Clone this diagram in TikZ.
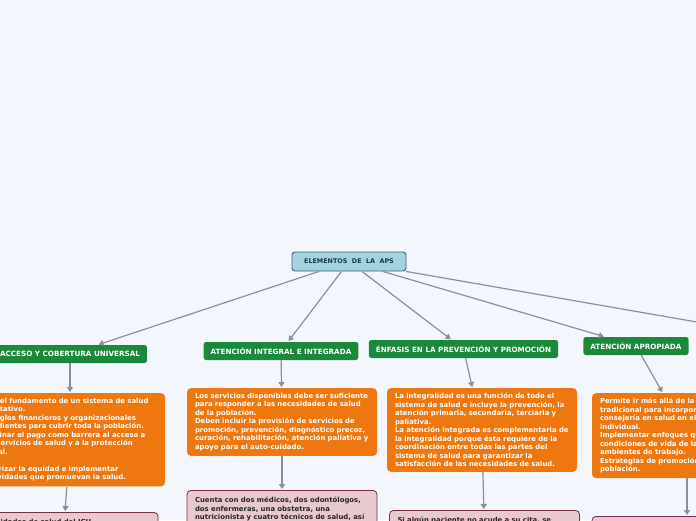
\documentclass[tikz,border=0pt]{standalone}
\usepackage{fontspec}
\setmainfont{DejaVu Sans}
\usetikzlibrary{arrows.meta}
\definecolor{fondo}{HTML}{F4F6FE}
\definecolor{temafill}{HTML}{A2D3E0}
\definecolor{temaline}{HTML}{41606C}
\definecolor{temafont}{HTML}{203847}
\definecolor{verde}{HTML}{1A8A3A}
\definecolor{naranja}{HTML}{EE7710}
\definecolor{rosa}{HTML}{E8C9CF}
\definecolor{granate}{HTML}{7C2E3E}
\definecolor{gris}{HTML}{8B8F98}

\begin{document}
\begin{tikzpicture}[x=1pt,y=-1pt,
                    tema/.style={draw=temaline,fill=temafill,line width=0.9pt,
                                 rounded corners=3pt,text=temafont,
                                 font=\bfseries\fontsize{6.4}{7}\selectfont,
                                 minimum width=114pt,minimum height=19pt},
                    eje/.style={fill=verde,rounded corners=2.5pt,text=white,
                                font=\bfseries\fontsize{7.2}{8}\selectfont,
                                minimum height=18pt,inner xsep=7pt},
                    nota/.style={fill=naranja,rounded corners=4pt,text=white,
                                 anchor=north,text width=174pt,align=left,
                                 inner xsep=8pt,inner ysep=5pt,
                                 font=\bfseries\fontsize{6.9}{8.5}\selectfont},
                    caso/.style={nota,fill=rosa,draw=granate,line width=0.8pt,
                                 text=black!85,inner ysep=7pt,text depth=40pt},
                    rama/.style={draw=gris,line width=1.2pt,shorten >=1pt,
                                 -{Triangle[length=5pt,width=6pt]}}]
  \fill[fondo] (0,0) rectangle (696,520);
  \useasboundingbox (0,0) rectangle (696,520);
  \clip (0,0) rectangle (696,520);

  \node[tema] (aps) at (349,261.5) {ELEMENTOS\ \ DE\ \ LA\ \ APS};

  \node[eje] (acceso) at (70,354) {ACCESO Y COBERTURA UNIVERSAL};
  \node[eje] (integral) at (281,351) {ATENCIÓN INTEGRAL E INTEGRADA};
  \node[eje] (enfasis) at (463.5,349) {ÉNFASIS EN LA PREVENCIÓN Y PROMOCIÓN};
  \node[eje] (apropiada) at (636,346) {ATENCIÓN APROPIADA};
  % the fifth branch leaves the page, so it only needs a free end
  \coordinate (fuera) at (760,333);

  \node[nota] (accesotxt) at (70,393)
    {Son el fundamento de un sistema de salud\\
     equitativo.\\
     Arreglos financieros y organizacionales\\
     pendientes para cubrir toda la población.\\
     Eliminar el pago como barrera al acceso a\\
     los servicios de salud y a la protección\\
     social.\\[8.5pt]
     Priorizar la equidad e implementar\\
     actividades que promuevan la salud.};
  \node[nota] (integraltxt) at (282,388)
    {Los servicios disponibles debe ser suficiente\\
     para responder a las necesidades de salud\\
     de la población.\\
     Deben incluir la provisión de servicios de\\
     promoción, prevención, diagnóstico precoz,\\
     curación, rehabilitación, atención paliativa y\\
     apoyo para el auto-cuidado.};
  \node[nota] (enfasistxt) at (482,388)
    {La integralidad es una función de todo el\\
     sistema de salud e incluye la prevención, la\\
     atención primaria, secundaria, terciaria y\\
     paliativa.\\
     La atención integrada es complementaria de\\
     la integralidad porque ésta requiere de la\\
     coordinación entre todas las partes del\\
     sistema de salud para garantizar la\\
     satisfacción de las necesidades de salud.};
  \node[nota] (apropiadatxt) at (687,393)
    {Permite ir más allá de la atención\\
     tradicional para incorporar la\\
     consejería en salud en el ámbito\\
     individual.\\
     Implementar enfoques que mejoren las\\
     condiciones de vida de la población y\\
     ambientes de trabajo.\\
     Estrategias de promoción para la\\
     población.};

  \node[caso] (accesocaso) at (63,512) {Los cuidados de salud del ICU};
  \node[caso] (integralcaso) at (282,490)
    {Cuenta con dos médicos, dos odontólogos,\\
     dos enfermeras, una obstetra, una\\
     nutricionista y cuatro técnicos de salud, así};
  \node[caso] (enfasiscaso) at (484.5,510)
    {Si algún paciente no acude a su cita, se};
  \node[caso] (apropiadacaso) at (687,516) {\strut};

  \foreach \rama in {acceso,integral,enfasis,apropiada}
    \draw[rama] (aps) -- (\rama);
  \draw[draw=gris,line width=1.2pt] (aps) -- (fuera);
  \foreach \rama in {acceso,integral,enfasis,apropiada} {
    \draw[rama] (\rama) -- (\rama txt);
    \draw[rama] (\rama txt) -- (\rama caso);
  }
\end{tikzpicture}
\end{document}
